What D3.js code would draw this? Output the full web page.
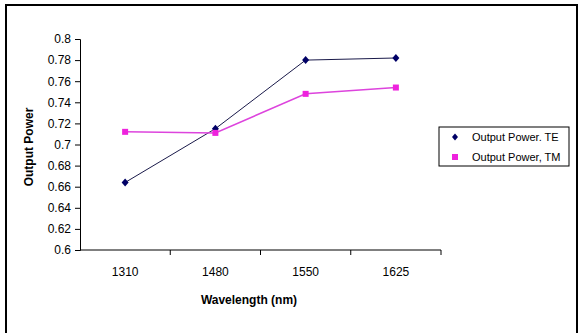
<!DOCTYPE html>
<html>
<head>
<meta charset="utf-8">
<script src="https://cdn.jsdelivr.net/npm/d3@7"></script>
<style>
  body { margin: 0; background: #fff; }
  svg { display: block; font-family: "Liberation Sans", Arial, sans-serif; }
</style>
</head>
<body>
<svg id="chart" width="581" height="333"></svg>
<script>
const wavelengths = ['1310', '1480', '1550', '1625'];
const powerTE = [0.664, 0.715, 0.780, 0.782];
const powerTM = [0.712, 0.711, 0.748, 0.754];
const yTicks = [0.6, 0.62, 0.64, 0.66, 0.68, 0.7, 0.72, 0.74, 0.76, 0.78, 0.8];
const seriesNames = ['Output Power. TE', 'Output Power, TM'];

const svg = d3.select('#chart');

// outer frame
svg.append('rect')
  .attr('x', 6).attr('y', 5).attr('width', 571).attr('height', 340)
  .attr('fill', 'none').attr('stroke', '#000').attr('stroke-width', 2);

const x = d3.scaleBand().domain(wavelengths).range([80, 441]);
const y = d3.scaleLinear().domain([0.6, 0.8]).range([250, 39]);

// y axis
const yAxis = svg.append('g')
  .attr('transform', 'translate(80,0)')
  .call(d3.axisLeft(y).tickValues(yTicks).tickSize(5).tickPadding(4)
    .tickFormat(d => String(+d.toFixed(2))));
yAxis.selectAll('text').attr('font-size', 12).attr('fill', '#000')
  .attr('font-family', '"Liberation Sans", Arial, sans-serif');

// x axis: labels at band centres, ticks at band edges
const xAxis = svg.append('g')
  .attr('transform', 'translate(0,250)')
  .call(d3.axisBottom(x).tickSize(0).tickPadding(17));
xAxis.selectAll('text').attr('font-size', 12).attr('fill', '#000')
  .attr('font-family', '"Liberation Sans", Arial, sans-serif');
xAxis.select('.domain').attr('d', 'M80,0H441');

const edges = wavelengths.slice(1).map(c => x(c)).concat([x.range()[1]]);
xAxis.selectAll('.edge')
  .data(edges)
  .enter().append('line')
  .attr('class', 'edge')
  .attr('x1', d => d).attr('x2', d => d)
  .attr('y1', 0).attr('y2', 5)
  .attr('stroke', '#000');

// axis titles
svg.append('text')
  .attr('transform', 'translate(33,147) rotate(-90)')
  .attr('text-anchor', 'middle')
  .attr('font-size', 12).attr('font-weight', 'bold')
  .text('Output Power');

svg.append('text')
  .attr('x', 249).attr('y', 304)
  .attr('text-anchor', 'middle')
  .attr('font-size', 12).attr('font-weight', 'bold')
  .text('Wavelength (nm)');

const cx = (d, i) => x(wavelengths[i]) + x.bandwidth() / 2;
const line = d3.line().x((d, i) => cx(d, i)).y(d => y(d));

// TE series
svg.append('path')
  .attr('d', line(powerTE))
  .attr('fill', 'none').attr('stroke', '#1a1a4a').attr('stroke-width', 1);
svg.selectAll('.te')
  .data(powerTE)
  .enter().append('path')
  .attr('class', 'te')
  .attr('transform', (d, i) => 'translate(' + cx(d, i) + ',' + y(d) + ')')
  .attr('d', 'M0,-4L3.5,0L0,4L-3.5,0Z')
  .attr('fill', '#000066');

// TM series
svg.append('path')
  .attr('d', line(powerTM))
  .attr('fill', 'none').attr('stroke', '#dd44dd').attr('stroke-width', 1.5);
svg.selectAll('.tm')
  .data(powerTM)
  .enter().append('rect')
  .attr('class', 'tm')
  .attr('x', (d, i) => cx(d, i) - 3)
  .attr('y', d => y(d) - 3)
  .attr('width', 6).attr('height', 6)
  .attr('fill', '#ee22dd');

// legend
const legend = svg.append('g').attr('transform', 'translate(439,127)');
legend.append('rect')
  .attr('width', 130).attr('height', 39)
  .attr('fill', '#fff').attr('stroke', '#000').attr('stroke-width', 1);
legend.append('path')
  .attr('transform', 'translate(16,10)')
  .attr('d', 'M0,-3.5L3,0L0,3.5L-3,0Z')
  .attr('fill', '#000066');
legend.append('rect')
  .attr('x', 13).attr('y', 27).attr('width', 6).attr('height', 6)
  .attr('fill', '#ee22dd');
legend.selectAll('.lbl')
  .data(seriesNames)
  .enter().append('text')
  .attr('class', 'lbl')
  .attr('x', 33).attr('y', (d, i) => 14 + i * 19.5)
  .attr('font-size', 11)
  .text(d => d);
</script>
</body>
</html>
